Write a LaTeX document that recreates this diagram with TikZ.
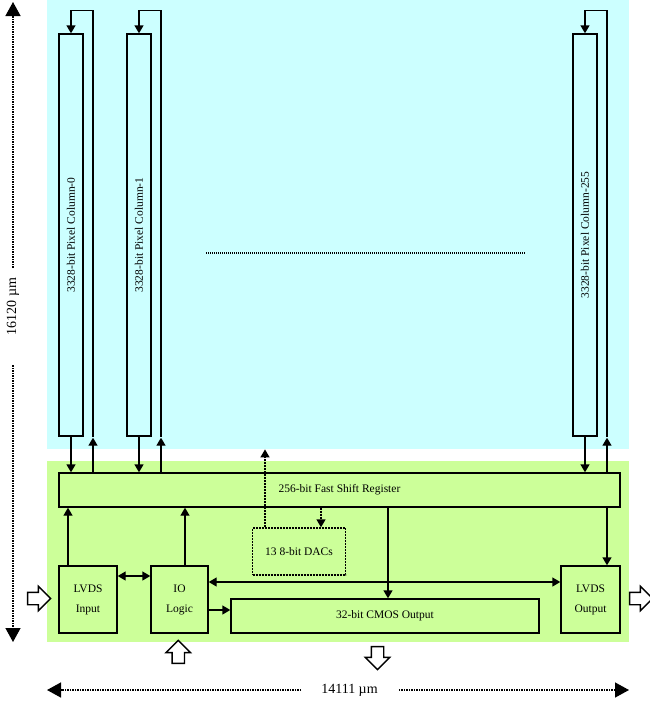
\documentclass[tikz,border=0pt]{standalone}
\usepackage{fontspec}
\setmainfont{Liberation Serif}
\usetikzlibrary{arrows.meta, positioning, shapes.arrows, calc}
\definecolor{pixcyan}{HTML}{CCFFFF}
\definecolor{periphgreen}{HTML}{CCFF99}

\begin{document}
\begin{tikzpicture}[
  x=1pt, y=-1pt,
  every node/.style={font=\fontsize{11.5}{20}\selectfont},
  areanode/.style={rectangle, inner sep=0pt, anchor=north west},
  colnode/.style={rectangle, draw, line width=1.4pt, minimum width=24pt, minimum height=402pt, inner sep=0pt},
  blocknode/.style={rectangle, draw, line width=1.4pt, inner sep=0pt, align=center},
  dacnode/.style={rectangle, draw, line width=1.4pt, dash pattern=on 2pt off 1pt, minimum width=93pt, minimum height=47pt, inner sep=0pt},
  bigarrow/.style={single arrow, draw, line width=1.4pt, fill=white, minimum height=23pt, inner sep=5.5pt, single arrow head extend=6pt},
  conn/.style={line width=1.4pt, -{Triangle[length=8pt, width=9pt]}},
  dconn/.style={line width=1.4pt, {Triangle[length=8pt, width=9pt]}-{Triangle[length=8pt, width=9pt]}},
  dashconn/.style={conn, dash pattern=on 2pt off 1pt},
  dimline/.style={line width=1.4pt, dash pattern=on 1.5pt off 1pt, -{Triangle[length=14pt, width=15pt]}},
  dimlabel/.style={font=\fontsize{14}{16}\selectfont, inner sep=0pt},
]
\useasboundingbox (0,0) rectangle (649,705);

% Background areas
\node[areanode, fill=pixcyan, minimum width=582pt, minimum height=449pt] (pixarea) at (47,0) {};
\node[areanode, fill=periphgreen, minimum width=582pt, minimum height=181pt] (periph) at (47,461) {};

% Pixel columns
\node[colnode] (col0) at (71,235) {\rotatebox{90}{3328-bit Pixel Column-0}};
\node[colnode] (col1) at (139,235) {\rotatebox{90}{3328-bit Pixel Column-1}};
\node[colnode] (col255) at (585,235) {\rotatebox{90}{3328-bit Pixel Column-255}};

\draw[line width=1.4pt, dash pattern=on 1pt off 1pt] (206,253) -- (526,253);

% Periphery
\node[blocknode, minimum width=561pt, minimum height=34pt] (sr) at (339.5,490) {256-bit Fast Shift Register};
\node[dacnode] (dac) at (299,551.5) {13 8-bit DACs};
\node[blocknode, minimum width=58pt, minimum height=67pt] (lvdsin) at (88,599.5) {LVDS\\Input};
\node[blocknode, minimum width=57pt, minimum height=67pt] (iologic) at (179.5,599.5) {IO\\Logic};
\node[blocknode, minimum width=308pt, minimum height=34pt] (cmos) at (385,616) {32-bit CMOS Output};
\node[blocknode, minimum width=59pt, minimum height=67pt] (lvdsout) at (590.5,599.5) {LVDS\\Output};

\foreach \c in {col0,col1,col255} {
  \draw[conn] (\c.south) -- (\c.south |- sr.north);
  \draw[conn] ([xshift=22pt]\c.south |- sr.north) -- ([xshift=22pt,yshift=-1pt]\c.south);
  \draw[conn] ([xshift=22pt]\c.south) -- ([xshift=22pt,yshift=23pt]\c.north) -- ([yshift=23pt]\c.north) -- (\c.north);
}

\draw[conn] ([xshift=-20pt]lvdsin.north) -- ([xshift=-20pt]lvdsin.north |- sr.south);
\draw[conn] ([xshift=5.5pt]iologic.north) -- ([xshift=5.5pt]iologic.north |- sr.south);
\draw[dconn] ([yshift=23.5pt]lvdsin.east) -- ([yshift=23.5pt]iologic.west);
\draw[dconn] ([yshift=17.5pt]iologic.east) -- ([yshift=17.5pt]lvdsout.west);
\draw[conn] ([yshift=-10.5pt]iologic.east) -- ([yshift=-10.5pt]iologic.east -| cmos.west);
\draw[conn] ([xshift=3pt]cmos.north |- sr.south) -- ([xshift=3pt]cmos.north);
\draw[conn] ([xshift=16.5pt]lvdsout.north |- sr.south) -- ([xshift=16.5pt]lvdsout.north);
\draw[dashconn] ([xshift=-34pt]dac.north) -- ([xshift=-34pt]dac.north |- pixarea.south);
\draw[dashconn] ([xshift=22pt]dac.north |- sr.south) -- ([xshift=22pt]dac.north);

% I/O block arrows
\node[bigarrow] (inarrow) at (36,598.5) {};
\node[bigarrow] (outarrow) at (638,598.5) {};
\node[bigarrow, shape border rotate=90] (ctrlarrow) at (178.3,655) {};
\node[bigarrow, shape border rotate=270] (dataarrow) at (377.5,655) {};

% Dimensions
\coordinate (vtop) at (13,2);
\coordinate (vbot) at (13,642);
\node[dimlabel, rotate=90] (vlab) at (13,306.5) {16120 µm};
\draw[dimline] ([yshift=10pt]vlab.east) -- (vtop);
\draw[dimline] ([yshift=-30pt]vlab.west) -- (vbot);

\coordinate (hleft) at (47,690);
\coordinate (hright) at (629,690);
\node[dimlabel] (hlab) at (349.5,690) {14111 µm};
\draw[dimline] ([xshift=-20pt]hlab.west) -- (hleft);
\draw[dimline] ([xshift=21pt]hlab.east) -- (hright);

\end{tikzpicture}
\end{document}
